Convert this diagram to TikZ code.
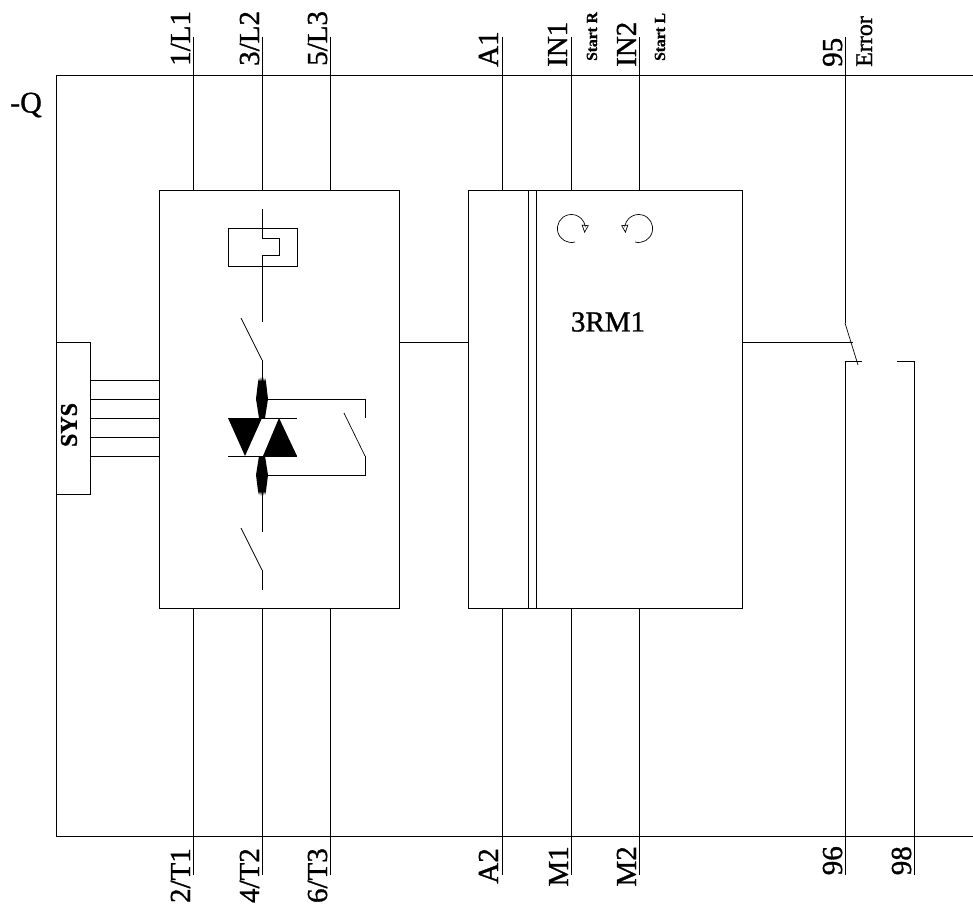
\documentclass[tikz,border=0pt]{standalone}
\usepackage{fontspec}
\setmainfont[FakeBold=1.1]{Liberation Serif}
\usetikzlibrary{arrows.meta}

\begin{document}
\begin{tikzpicture}[x=1pt,y=-1pt]
	\tikzstyle{block}=[rectangle, draw=black, line width=1pt, inner sep=0pt, anchor=north west]
	\tikzstyle{wire}=[line width=1pt, black]
	\tikzstyle{thin}=[line width=0.7pt, black]
	\tikzstyle{term}=[rotate=90, inner sep=0pt, font=\fontsize{29}{29}\selectfont]
	\tikzstyle{topterm}=[term, anchor=base west]
	\tikzstyle{lowterm}=[term, anchor=base east]
	\tikzstyle{note}=[rotate=90, inner sep=0pt, anchor=base west, font=\bfseries\fontsize{15.5}{16}\selectfont]
	\useasboundingbox (0,0) rectangle (973,907);

	  \coordinate (qa) at (973,75);
	  \coordinate (qb) at (56,75);
	  \coordinate (qc) at (56,836);
	  \coordinate (qd) at (973,836);
	  \draw[wire] (qa) -- (qb) -- (qc) -- (qd);

	  \node[block, minimum width=240pt, minimum height=418pt] (pow) at (159,190) {};
	  \node[block, minimum width=274pt, minimum height=418pt] (ctl) at (468,190) {};
	  \node[block, fill=white, minimum width=34pt, minimum height=152pt] (sys) at (56,342) {};
	  \node[rotate=90, inner sep=0pt, font=\bfseries\fontsize{24}{24}\selectfont] (systxt) at (69,425) {SYS};
	  \node[inner sep=0pt, font=\fontsize{30}{30}\selectfont] (qname) at (26,105) {-Q};
	  \node[inner sep=0pt, font=\fontsize{29}{29}\selectfont] (rmname) at (608,322) {3RM1};

	  % terminals
	  \coordinate (l1) at (193,37);
	  \coordinate (l2) at (262,37);
	  \coordinate (l3) at (330,37);
	  \coordinate (a1) at (502,37);
	  \coordinate (in1) at (571,37);
	  \coordinate (in2) at (639,37);
	  \coordinate (e95) at (845,37);
	  \coordinate (t1) at (193,875);
	  \coordinate (t2) at (262,875);
	  \coordinate (t3) at (330,875);
	  \coordinate (a2) at (502,875);
	  \coordinate (m1) at (571,875);
	  \coordinate (m2) at (639,875);
	  \coordinate (e96) at (845,875);
	  \coordinate (e98) at (914,875);
	  \coordinate (cpl) at (399,342);
	  \coordinate (cpr) at (468,342);
	  \coordinate (fa) at (742,342);
	  \coordinate (fb) at (853,342);

	  \path (l1) edge [wire] (l1 |- pow.north)
			(l2) edge [wire] (l2 |- pow.north)
			(l3) edge [wire] (l3 |- pow.north)
			(a1) edge [wire] (a1 |- ctl.north)
			(in1) edge [wire] (in1 |- ctl.north)
			(in2) edge [wire] (in2 |- ctl.north)
			(t1) edge [wire] (t1 |- pow.south)
			(t2) edge [wire] (t2 |- pow.south)
			(t3) edge [wire] (t3 |- pow.south)
			(a2) edge [wire] (a2 |- ctl.south)
			(m1) edge [wire] (m1 |- ctl.south)
			(m2) edge [wire] (m2 |- ctl.south)
			(cpl) edge [wire] (cpr)
			(fa) edge [wire] (fb);

	  \node[topterm] (l1txt) at (190,66) {1/L1};
	  \node[topterm] (l2txt) at (259,66) {3/L2};
	  \node[topterm] (l3txt) at (327,66) {5/L3};
	  \node[topterm] (a1txt) at (498,67) {A1};
	  \node[topterm] (in1txt) at (567,67) {IN1};
	  \node[topterm] (in2txt) at (636,67) {IN2};
	  \node[topterm] (e95txt) at (842,67) {95};
	  \node[lowterm] (t1txt) at (190,848) {2/T1};
	  \node[lowterm] (t2txt) at (259,848) {4/T2};
	  \node[lowterm] (t3txt) at (327,848) {6/T3};
	  \node[lowterm] (a2txt) at (498,848) {A2};
	  \node[lowterm] (m1txt) at (568,846) {M1};
	  \node[lowterm] (m2txt) at (636,846) {M2};
	  \node[lowterm] (e96txt) at (842,846) {96};
	  \node[lowterm] (e98txt) at (911,846) {98};
	  \node[note] (rtxt) at (597,61) {Start R};
	  \node[note] (ltxt) at (665,61) {Start L};
	  \node[note, font=\fontsize{24}{24}\selectfont] (errtxt) at (872,67) {Error};

	  % system bus
	  \coordinate (sa) at (90,380);
	  \coordinate (sb) at (90,399);
	  \coordinate (sc) at (90,418);
	  \coordinate (sd) at (90,437);
	  \coordinate (se) at (90,456);
	  \path (sa) edge [wire] (sa -| pow.west)
			(sb) edge [wire] (sb -| pow.west)
			(sc) edge [wire] (sc -| pow.west)
			(sd) edge [wire] (sd -| pow.west)
			(se) edge [wire] (se -| pow.west);

	  % second stripe of the control block
	  \draw[wire] (528,190) -- (528,608);
	  \draw[wire] (536,190) -- (536,608);

	  % overload element
	  \draw[wire] (228,228) rectangle (297,266);
	  \draw[wire] (262,209) -- (262,238) -- (279,238) -- (279,255) -- (262,255) -- (262,322);

	  % upper switch and semiconductors
	  \draw[thin] (241,318) -- (262,360);
	  \draw[wire] (262,360) -- (262,418);
	  \draw[wire] (262,456) -- (262,532);
	  \fill (258,382) -- (259,378) -- (260,382) -- (261,377) -- (262,382) -- (263,377) -- (264,382) -- (265,378) -- (266,382) -- (268,399) -- (265,418) -- (259,418) -- (256,399) -- cycle;
	  \fill (258,491) -- (259,495) -- (260,491) -- (261,496) -- (262,491) -- (263,496) -- (264,491) -- (265,495) -- (266,491) -- (268,475) -- (265,456) -- (259,456) -- (256,475) -- cycle;
	  \draw[wire] (228,418) -- (297,418);
	  \draw[wire] (228,456) -- (297,456);
	  \fill (228,418) -- (262,418) -- (245,456) -- cycle;
	  \fill (263,456) -- (297,456) -- (279,418) -- cycle;

	  % bypass contact
	  \draw[wire] (268,399) -- (365,399) -- (365,418);
	  \draw[thin] (344,413) -- (365,456);
	  \draw[wire] (365,456) -- (365,475) -- (268,475);

	  % lower switch
	  \draw[thin] (241,528) -- (262,570);
	  \draw[wire] (262,570) -- (262,590);

	  % rotation symbols
	  \draw[thin, -{Triangle[open,length=8pt,width=7pt]}] (575,242) arc[start angle=-75, end angle=-350, radius=14pt] -- (584.5,233);
	  \draw[thin, -{Triangle[open,length=8pt,width=7pt]}] (635,242) arc[start angle=-105, end angle=170, radius=14pt] -- (625.5,233);

	  % signalling contact
	  \coordinate (ka) at (845,323);
	  \coordinate (kb) at (858,365);
	  \coordinate (kc) at (862,361);
	  \coordinate (kd) at (845,361);
	  \coordinate (ke) at (897,361);
	  \coordinate (kf) at (914,361);
	  \path (e95) edge [wire] (ka)
			(ka) edge [thin] (kb);
	  \draw[wire] (kc) -- (kd) -- (e96);
	  \draw[wire] (ke) -- (kf) -- (e98);
\end{tikzpicture}
\end{document}
